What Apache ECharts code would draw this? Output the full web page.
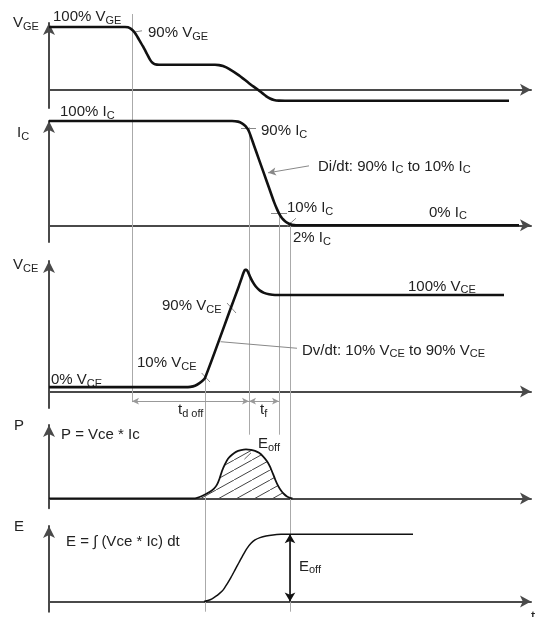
<!DOCTYPE html>
<html><head><meta charset="utf-8">
<script src="https://cdn.jsdelivr.net/npm/echarts@6/dist/echarts.min.js"></script>
<style>html,body{margin:0;padding:0;background:#fff}#c{width:536px;height:617px}</style>
</head><body><div id="c"></div>
<script>
// ---- data (time in arbitrary units, signals in % of final value) ----
const vgeCurve = [[0,100],[76,100],[79,99.5],[82,97],[84.5,93.5],[87,88],[90,80],[94,69],[98,57],[101,48],[103.5,43],[106,40.8],[110,40],[166,40],[170,39.3],[174,37.8],[180,33.5],[190,23],[200,10.5],[209,0],[217,-10],[221,-13.8],[225,-16.2],[230,-17.3],[236,-17.5],[460,-17.5]];
const icCurve = [[0,100],[183,100],[189,99.4],[193,97.8],[196.5,95],[200,90],[205,76.5],[210,63],[215,49.5],[220,36],[225,22.5],[228,15.5],[230,11.5],[232,8.3],[234,5.8],[237,3.2],[240,1.5],[243,0.5],[247,0],[470,0]];
const vceCurve = [[0,4.5],[139,4.5],[144,5.3],[148,7],[152,9.8],[156,14],[182,87],[189.5,108],[192.5,117],[194.5,123],[196,126],[197.5,126],[199,124],[201,119],[204,113],[207,108.5],[211,104.5],[215,102.2],[220,100.7],[226,100],[455,100]];
const pCurve = [[0,0],[146,0],[149,1.5],[153,5],[157,9],[161,13.5],[165,20],[168,28],[170.5,40],[173,56],[176,70],[179,81],[183,89],[187,95],[192,98.5],[197,100],[202,99],[206,97],[210,93],[214,86],[218,76],[221,65],[224,50],[226.5,37],[229,26],[232,16],[235,9],[238,4],[241,1],[243.5,0]];
const eCurve = [[155,0],[159,1.5],[163,4],[167,8],[170,11.5],[174,17],[178,26],[182,36],[186,47],[190,58],[194,69],[198,79],[202,86.5],[206,91.5],[211,95],[217,97.5],[224,99],[232,99.8],[241,100],[364,100]];
// key instants: 90% VGE, 10% VCE, 90% IC, 10% IC, 2% IC
const keyTimes = [83, 156, 200, 230, 241];
// panel value ranges [min, max]
const panelRanges = [[-29,106.4],[-16,100],[-17,135.2],[-20,149.8],[-15,112.2]];

const FONT = '"Liberation Sans", Arial, Helvetica, sans-serif';
const grids = [
  {left:49, top:23, width:482, height:85},
  {left:49, top:121, width:482, height:121},
  {left:49, top:261, width:482, height:146.9},
  {left:49, top:425, width:482, height:83.2},
  {left:49, top:526, width:482, height:85.7}
];
const axisCol = '#4a4a4a';
const xAxes = grids.map((g,i)=>({type:'value', gridIndex:i, min:0, max:482,
  axisLine:{show:true, onZero:true, lineStyle:{color:axisCol, width:2}, symbol:['none','arrow'], symbolSize:[9,11]},
  axisTick:{show:false}, axisLabel:{show:false}, splitLine:{show:false}}));
const yAxes = grids.map((g,i)=>({type:'value', gridIndex:i, min:panelRanges[i][0], max:panelRanges[i][1],
  axisLine:{show:true, onZero:false, lineStyle:{color:axisCol, width:2}, symbol:['none','arrow'], symbolSize:[9,12]},
  axisTick:{show:false}, axisLabel:{show:false}, splitLine:{show:false}}));

function ml(items){
  return {silent:true, animation:false, label:{show:false}, emphasis:{disabled:true},
    data: items.map(it=>[
      {coord:[it.l[0],it.l[1]], symbol: it.s0||'none', symbolSize: it.size||7, lineStyle:{color:it.c||'#888', width:it.w||1, type:'solid'}},
      {coord:[it.l[2],it.l[3]], symbol: it.s1||'none', symbolSize: it.size||7}
    ])};
}

// hatch pattern
const hc = document.createElement('canvas'); hc.width=18; hc.height=10;
const hg = hc.getContext('2d'); hg.strokeStyle='#444'; hg.lineWidth=1;
hg.beginPath(); hg.moveTo(0,10); hg.lineTo(18,0); hg.moveTo(-18,10); hg.lineTo(0,0); hg.moveTo(18,10); hg.lineTo(36,0); hg.stroke();

const base = {type:'line', showSymbol:false, clip:false, animation:false, smooth:0.2, silent:true, z:5};
const series = [
  Object.assign({}, base, {xAxisIndex:0, yAxisIndex:0, data:vgeCurve, lineStyle:{color:'#111', width:2.6},
    markLine: ml([{l:[85,92,93,94]}])}),
  Object.assign({}, base, {xAxisIndex:1, yAxisIndex:1, data:icCurve, lineStyle:{color:'#111', width:2.6},
    markLine: ml([{l:[192,93,207,93]},{l:[222,11.5,238,11.5]},{l:[238,-1,247,6.8]},{l:[260,57,219,50.3], s1:'arrow', size:[6,8]}])}),
  Object.assign({}, base, {xAxisIndex:2, yAxisIndex:2, data:vceCurve, lineStyle:{color:'#111', width:2.6},
    markLine: ml([{l:[178,91.7,187,81.3]},{l:[152.6,19.2,161,9.8]},{l:[171.5,51.6,248,44.8]},
      {l:[keyTimes[0],-10,keyTimes[2],-10], s0:'arrow', s1:'arrow', size:[5,7], c:'#999'},
      {l:[keyTimes[2],-10,keyTimes[3],-10], s0:'arrow', s1:'arrow', size:[5,7], c:'#999'}])}),
  Object.assign({}, base, {xAxisIndex:3, yAxisIndex:3, data:pCurve, lineStyle:{color:'#111', width:1.8},
    areaStyle:{color:{image:hc, repeat:'repeat'}, opacity:1},
    markLine: ml([{l:[202,93,195.4,80], c:'#666'}])}),
  Object.assign({}, base, {xAxisIndex:4, yAxisIndex:4, data:eCurve, lineStyle:{color:'#111', width:1.5},
    markLine: ml([{l:[keyTimes[4],0,keyTimes[4],100], s0:'arrow', s1:'arrow', size:[8,9], c:'#111', w:1.6}])})
];

const chart = echarts.init(document.getElementById('c'), null, {renderer:'canvas'});
chart.setOption({animation:false, grid:grids, xAxis:xAxes, yAxis:yAxes, series:series});

const px = (p,t,v)=>chart.convertToPixel({gridIndex:p},[t,v]);
const guides = [
  [keyTimes[0], 0, 120.7, 2, -11],
  [keyTimes[1], 2, 14, 4, -15],
  [keyTimes[2], 1, 94, 3, 130],
  [keyTimes[3], 1, 12.5, 3, 130],
  [keyTimes[4], 1, 3, 4, -15]
];
const graphics = [];
guides.forEach(g=>{
  const a = px(g[1], g[0], g[2]), b = px(g[3], g[0], g[4]);
  graphics.push({type:'line', z:1, silent:true, shape:{x1:Math.round(a[0])+0.5, y1:a[1], x2:Math.round(b[0])+0.5, y2:b[1]}, style:{stroke:'#aaa', lineWidth:1}});
});

const mc = document.createElement('canvas').getContext('2d');
function tw(s,fs){ mc.font = fs+'px '+FONT; return mc.measureText(s).width; }
function addLabel(x, y, str){
  const re = /_\{([^}]*)\}/g; let last=0, m; const parts=[];
  while((m=re.exec(str))){ if(m.index>last) parts.push([str.slice(last,m.index),false]); parts.push([m[1],true]); last=re.lastIndex; }
  if(last<str.length) parts.push([str.slice(last),false]);
  let cx = x;
  parts.forEach(([s,sub])=>{
    const fs = sub?11:15;
    graphics.push({type:'text', z:10, silent:true, x:cx, y: sub? y+3.5 : y,
      style:{text:s, fontSize:fs, fontFamily:FONT, fill:'#222', align:'left', verticalAlign:'middle'}});
    cx += tw(s,fs);
  });
}
const labels = [
  [13,23,'V_{GE}'],[53,17,'100% V_{GE}'],[148,33,'90% V_{GE}'],
  [17,133,'I_{C}'],[60,112,'100% I_{C}'],[261,131,'90% I_{C}'],[318,166.5,'Di/dt: 90% I_{C} to 10% I_{C}'],
  [287,208,'10% I_{C}'],[429,212.5,'0% I_{C}'],[293,238,'2% I_{C}'],
  [13,265,'V_{CE}'],[408,286.5,'100% V_{CE}'],[162,306,'90% V_{CE}'],[137,363,'10% V_{CE}'],[51,380,'0% V_{CE}'],
  [302,350.5,'Dv/dt: 10% V_{CE} to 90% V_{CE}'],[178,410,'t_{d off}'],[260,410,'t_{f}'],
  [14,425.5,'P'],[61,435,'P = Vce * Ic'],[258,444,'E_{off}'],
  [14,526.5,'E'],[66,541.5,'E = ∫ (Vce * Ic) dt'],[299,566.5,'E_{off}'],[531,617,'t']
];
labels.forEach(l=>addLabel(l[0],l[1],l[2]));
chart.setOption({graphic:graphics});
</script></body></html>
